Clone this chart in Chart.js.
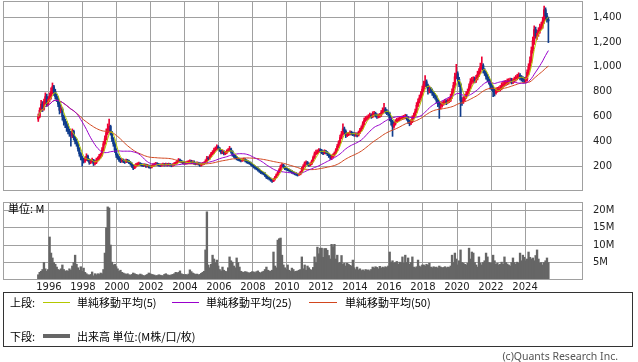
<!DOCTYPE html>
<html>
<head>
<meta charset="utf-8">
<script src="https://cdn.jsdelivr.net/npm/chart.js@4.4.0/dist/chart.umd.min.js"></script>
<style>
  html, body { margin: 0; padding: 0; background: #fff; }
  body { width: 638px; height: 362px; position: relative; overflow: hidden; font-family: "Noto Sans CJK JP", sans-serif; }
  canvas { position: absolute; left: 0; }
  .t { position: absolute; font-size: 11px; line-height: 12px; color: #000; white-space: nowrap; }
  .ln { position: absolute; height: 1px; }
  #legendBox { position: absolute; left: 3px; top: 292px; width: 628px; height: 53px; border: 1px solid #333; }
  #copy { position: absolute; right: 20px; top: 349px; font: 10.5px "Noto Sans", sans-serif; color: #555; line-height: 14px; }
</style>
</head>
<body>
<canvas id="priceChart" width="638" height="195" style="top:0"></canvas>
<canvas id="volumeChart" width="638" height="100" style="top:195px"></canvas>
<div class="t" style="left:8px;top:202px">単位: M</div>

<div id="legendBox"></div>
<div class="t" style="left:10px;top:296px">上段:</div>
<div class="ln" style="left:43px;top:302px;width:27px;background:#b4c800"></div>
<div class="t" style="left:77px;top:296px">単純移動平均(5)</div>
<div class="ln" style="left:172px;top:302px;width:27px;background:#9900cc"></div>
<div class="t" style="left:206px;top:296px">単純移動平均(25)</div>
<div class="ln" style="left:309px;top:302px;width:28px;background:#d2461e"></div>
<div class="t" style="left:345px;top:296px">単純移動平均(50)</div>
<div class="t" style="left:10px;top:330px">下段:</div>
<div class="ln" style="left:43px;top:334px;width:27px;height:4px;background:#666"></div>
<div class="t" style="left:77px;top:330px">出来高 単位:(M株/口/枚)</div>
<div id="copy">(c)Quants Research Inc.</div>

<script>
// 月足: 1995年5月から2025年5月まで
const startYear = 1995;
const startMonth = 5;

const open = [
  580,600,650,700,660,720,760,700,
  740,760,800,840,800,760,740,700,650,660,600,560,
  540,520,480,460,450,480,430,400,380,340,300,270,
  250,240,260,280,250,230,240,250,220,230,250,260,
  280,290,330,380,420,470,500,520,470,420,380,330,
  290,270,250,240,250,240,235,245,240,230,220,200,
  185,200,210,215,220,215,210,205,210,200,205,195,
  190,200,210,215,220,215,210,205,210,215,210,215,
  210,215,210,205,210,220,225,235,250,240,235,230,
  225,225,230,235,240,230,235,225,220,225,220,210,
  215,220,225,240,265,260,280,300,310,330,340,355,
  345,330,310,320,300,310,320,330,340,320,290,280,
  270,260,255,250,245,250,255,245,235,230,225,215,
  205,195,185,180,170,160,150,145,140,125,110,105,
  100,90,80,95,110,130,150,170,200,210,195,180,
  175,170,165,160,150,145,140,135,130,135,150,180,
  200,225,230,215,210,220,240,270,300,310,320,330,
  325,315,305,320,310,300,285,275,280,290,305,330,
  360,390,430,460,500,480,450,455,460,470,465,460,
  455,455,450,470,490,510,540,570,585,590,600,610,
  600,620,625,610,600,605,610,630,650,660,640,630,
  625,590,560,520,540,560,570,575,580,585,590,595,
  600,590,560,545,560,590,610,640,690,720,750,780,
  820,860,880,850,810,820,810,790,770,760,730,705,
  690,690,700,710,720,715,725,730,760,800,850,920,
  945,900,860,730,720,740,760,780,800,840,880,890,
  895,890,910,940,960,1000,1010,970,950,920,900,880,
  850,830,800,790,810,815,820,830,850,860,865,870,
  880,885,890,880,890,900,910,920,930,915,905,900,
  890,900,955,1000,1050,1130,1210,1300,1250,1270,1290,1320,
  1330,1370,1460,1410,1380
];

const high = [
  620,670,730,720,740,790,780,760,
  790,830,870,850,820,780,760,720,690,670,610,580,
  560,540,500,480,500,490,440,420,390,350,310,280,
  265,275,300,290,260,255,265,255,245,265,275,295,
  305,350,400,445,500,540,580,530,480,430,390,340,
  300,280,265,262,258,250,258,255,248,238,228,210,
  212,222,228,232,228,222,218,220,216,215,210,205,
  210,220,225,230,228,222,218,220,225,222,225,222,
  225,222,218,220,230,235,248,262,258,248,242,238,
  236,240,245,252,248,245,242,232,235,232,228,225,
  230,235,252,280,275,292,312,325,345,355,372,365,
  350,335,332,325,320,332,342,360,345,325,298,288,
  278,268,265,258,260,265,262,252,245,240,232,222,
  212,202,195,188,178,166,158,152,148,132,120,112,
  106,96,100,118,138,158,180,210,220,215,200,188,
  182,178,172,166,158,152,148,142,142,158,190,212,
  235,242,238,225,228,250,282,315,330,332,342,340,
  335,325,332,328,318,305,292,290,300,315,342,375,
  405,450,480,540,515,492,470,472,485,482,475,470,
  470,468,482,505,525,558,588,600,605,615,628,622,
  638,642,635,622,620,625,648,670,705,672,655,645,
  635,600,570,555,575,585,590,595,600,605,610,618,
  615,600,570,575,605,628,660,712,742,772,800,845,
  885,930,895,860,845,835,822,800,785,770,740,720,
  712,718,728,738,735,742,748,780,822,875,950,1020,
  960,915,870,752,760,780,800,822,862,905,915,920,
  918,932,965,985,1030,1080,1025,985,965,940,920,895,
  865,845,820,830,835,840,850,872,882,888,892,902,
  905,910,908,905,918,930,940,952,945,930,922,915,
  918,975,1025,1080,1160,1240,1330,1320,1295,1315,1345,1360,
  1400,1490,1475,1430,1400
];

const low = [
  560,590,640,640,650,700,680,690,
  720,740,780,770,740,720,680,620,630,570,530,510,
  480,460,440,360,430,410,380,360,320,280,250,200,
  225,230,245,240,215,220,230,205,210,220,240,250,
  265,280,320,370,410,455,480,450,400,360,310,270,
  255,238,228,232,228,222,228,230,220,208,190,172,
  180,192,202,208,205,200,195,198,190,192,185,182,
  185,195,202,208,205,200,195,198,202,200,202,200,
  202,200,195,198,205,212,220,232,230,225,220,215,
  215,218,222,228,220,222,215,210,212,208,198,200,
  208,212,220,235,248,255,275,292,302,320,330,335,
  318,298,300,290,292,300,315,320,305,280,270,258,
  250,245,240,235,238,242,235,225,220,215,205,195,
  185,175,170,160,150,140,135,130,115,100,95,88,
  78,70,75,88,105,125,145,165,192,185,172,168,
  162,158,150,142,136,130,125,120,125,130,145,172,
  195,215,205,198,202,212,232,262,290,298,310,312,
  300,292,298,298,285,270,255,252,268,280,298,325,
  350,380,420,450,460,430,438,445,452,450,445,440,
  440,435,442,462,482,500,530,560,570,578,590,585,
  590,605,595,585,588,592,600,620,635,625,615,605,
  565,530,440,505,530,555,560,565,570,575,578,582,
  570,545,525,535,550,580,600,630,680,708,738,765,
  800,840,830,780,790,790,770,750,740,710,680,585,
  660,675,690,700,695,705,712,720,745,785,835,905,
  880,840,600,690,705,725,745,765,785,825,860,870,
  870,875,895,920,945,980,950,930,900,880,860,820,
  810,760,765,780,795,800,805,815,835,842,848,855,
  860,870,862,865,875,885,895,905,895,885,880,870,
  870,885,935,980,1030,1110,1180,1230,1220,1245,1270,1300,
  1310,1350,1380,1360,1195
];

const close = [
  600,650,700,660,720,760,700,740,
  760,800,840,800,760,740,700,650,660,600,560,540,
  520,480,460,450,480,430,400,380,340,300,270,250,
  240,260,280,250,230,240,250,220,230,250,260,280,
  290,330,380,420,470,500,520,470,420,380,330,290,
  270,250,240,250,240,235,245,240,230,220,200,185,
  200,210,215,220,215,210,205,210,200,205,195,190,
  200,210,215,220,215,210,205,210,215,210,215,210,
  215,210,205,210,220,225,235,250,240,235,230,225,
  225,230,235,240,230,235,225,220,225,220,210,215,
  220,225,240,265,260,280,300,310,330,340,355,345,
  330,310,320,300,310,320,330,340,320,290,280,270,
  260,255,250,245,250,255,245,235,230,225,215,205,
  195,185,180,170,160,150,145,140,125,110,105,100,
  90,80,95,110,130,150,170,200,210,195,180,175,
  170,165,160,150,145,140,135,130,135,150,180,200,
  225,230,215,210,220,240,270,300,310,320,330,325,
  315,305,320,310,300,285,275,280,290,305,330,360,
  390,430,460,500,480,450,455,460,470,465,460,455,
  455,450,470,490,510,540,570,585,590,600,610,600,
  620,625,610,600,605,610,630,650,660,640,630,625,
  590,560,520,540,560,570,575,580,585,590,595,600,
  590,560,545,560,590,610,640,690,720,750,780,820,
  860,880,850,810,820,810,790,770,760,730,705,690,
  690,700,710,720,715,725,730,760,800,850,920,945,
  900,860,730,720,740,760,780,800,840,880,890,895,
  890,910,940,960,1000,1010,970,950,920,900,880,850,
  830,800,790,810,815,820,830,850,860,865,870,880,
  885,890,880,890,900,910,920,930,915,905,900,890,
  900,955,1000,1050,1130,1210,1300,1250,1270,1290,1320,1330,
  1370,1460,1410,1380,1370
];

// 出来高 (百万)
const volume = [
  1.5,2.2,2.5,3.0,5.0,3.2,2.5,3.0,
  12.3,7.7,6.3,5.0,4.5,3.7,3.0,2.8,3.2,4.3,3.0,2.5,
  2.7,2.5,3.2,2.8,4.0,5.0,7.1,4.5,3.5,2.8,3.8,2.5,
  3.4,2.2,1.8,1.5,1.4,1.6,2.3,1.2,1.8,1.5,1.8,1.6,
  2.0,1.8,3.0,7.7,14.9,20.9,20.6,10.0,5.1,4.3,4.5,3.8,
  3.2,2.5,2.8,2.2,2.0,1.8,1.6,1.8,1.5,1.4,1.6,2.0,
  1.8,1.6,1.5,1.4,1.7,1.5,1.3,1.2,1.4,1.6,2.0,1.8,
  1.6,1.5,1.4,1.2,1.3,1.5,1.4,1.3,1.2,1.6,1.8,1.5,
  1.4,1.3,1.5,1.6,1.8,2.2,2.0,2.2,2.6,1.8,1.6,1.5,
  1.6,1.4,1.7,2.9,2.4,2.0,1.8,1.6,1.7,1.5,1.6,1.9,
  2.2,2.5,8.6,19.5,4.3,3.5,4.5,7.1,6.0,5.0,5.7,4.0,
  3.0,2.6,3.7,2.8,2.5,2.4,3.5,6.6,5.5,5.1,4.0,3.5,
  6.3,5.0,3.7,2.5,2.3,2.2,2.4,2.3,2.1,2.0,2.2,2.4,
  2.3,2.1,2.4,2.6,2.2,2.0,2.3,2.5,3.0,3.7,2.8,2.6,
  2.5,2.8,8.0,4.0,3.5,11.4,11.8,12.0,7.1,4.3,3.5,3.0,
  4.3,2.8,2.5,3.4,3.0,2.4,2.5,2.6,2.8,3.0,6.6,3.2,
  4.3,2.8,4.0,3.5,3.0,2.8,3.6,6.6,5.0,9.4,7.5,9.1,
  9.1,6.5,9.0,9.0,8.5,7.0,6.0,10.2,9.5,10.2,6.0,7.1,
  4.8,5.0,7.0,4.5,4.8,4.0,4.8,4.5,4.2,4.0,5.7,3.5,
  3.0,3.7,2.9,3.2,2.7,2.9,2.6,3.0,2.8,2.9,2.6,3.0,
  3.7,3.4,3.8,3.6,3.2,3.9,3.4,3.7,3.5,3.8,3.6,4.0,
  8.0,5.1,5.5,4.8,5.0,5.3,4.5,5.1,5.0,6.6,4.8,7.1,
  5.0,6.3,4.5,5.0,6.6,3.7,3.5,3.8,5.7,4.0,3.7,4.3,
  4.3,4.0,4.5,4.2,4.8,3.7,3.5,3.8,3.6,3.7,3.4,4.0,
  3.7,3.5,3.6,3.8,3.5,3.7,3.6,4.0,7.1,5.0,7.7,6.0,
  4.3,5.5,8.6,5.0,4.8,4.5,4.3,4.8,9.1,6.0,8.0,7.7,
  5.0,4.3,3.7,6.6,4.8,4.3,5.0,5.5,7.7,6.6,5.0,4.8,
  5.0,7.1,5.5,4.5,4.8,4.3,4.5,5.1,4.5,6.6,5.0,4.6,
  4.3,4.0,5.0,6.3,5.0,4.5,5.1,4.8,7.7,5.5,7.1,6.5,
  5.5,6.0,8.0,6.5,6.0,6.3,5.5,7.0,8.6,6.0,4.8,5.0,
  4.3,5.0,5.5,6.3,5.0
];

const yearTicks = [1996, 1998, 2000, 2002, 2004, 2006, 2008, 2010, 2012, 2014, 2016, 2018, 2020, 2022, 2024];
const priceTicks = [200, 400, 600, 800, 1000, 1200, 1400];
const volumeTicks = [5, 10, 15, 20];

const UP = '#ee0033';
const DOWN = '#103c8c';
const GRID = '#a0a0a0';

Chart.defaults.font.family = 'DejaVu Sans';
Chart.defaults.font.size = 10;
Chart.defaults.color = '#222';

// 各月の足の中心位置 (年)
const monthX = close.map((_, i) => startYear + (startMonth - 1 + i) / 12 + 1 / 24);

function movingAverage(values, n) {
  return values.map((_, i) => {
    const part = values.slice(Math.max(0, i - n + 1), i + 1);
    return part.reduce((a, b) => a + b, 0) / part.length;
  });
}

const candleColor = close.map((c, i) => (c >= open[i] ? UP : DOWN));

// 枠線
const framePlugin = {
  id: 'frame',
  afterDraw(chart) {
    const { ctx, chartArea: a } = chart;
    ctx.save();
    ctx.strokeStyle = GRID;
    ctx.lineWidth = 1;
    ctx.strokeRect(Math.round(a.left) + 0.5, Math.round(a.top) + 0.5,
      Math.round(a.right - a.left) - 1, Math.round(a.bottom - a.top) - 1);
    ctx.restore();
  }
};

function xScale(showLabels) {
  return {
    type: 'linear',
    min: 1993.3,
    max: 2027.41,
    offset: false,
    afterBuildTicks: s => { s.ticks = yearTicks.map(v => ({ value: v })); },
    afterFit: s => { s.height = showLabels ? 15 : 0; s.paddingLeft = 0; s.paddingRight = 0; },
    ticks: { display: showLabels, padding: 1, maxRotation: 0, autoSkip: false, callback: v => String(v) },
    grid: { color: GRID, drawTicks: false, offset: false },
    border: { display: false }
  };
}

function yScale(min, max, ticks, fmt) {
  return {
    position: 'right',
    min: min,
    max: max,
    afterBuildTicks: s => { s.ticks = ticks.map(v => ({ value: v })); },
    afterFit: s => { s.width = 55; s.paddingTop = 0; s.paddingBottom = 0; },
    ticks: { padding: 10, callback: fmt },
    grid: { color: GRID, drawTicks: false },
    border: { display: false }
  };
}

const commonOptions = {
  responsive: false,
  animation: false,
  events: [],
  plugins: { legend: { display: false }, tooltip: { enabled: false } },
  datasets: { bar: { grouped: false } }
};

new Chart(document.getElementById('priceChart'), {
  type: 'bar',
  data: {
    datasets: [
      {
        type: 'line', label: '単純移動平均(5)', order: 0,
        data: movingAverage(close, 5).map((y, i) => ({ x: monthX[i], y })),
        borderColor: '#b4c800', borderWidth: 1, pointRadius: 0, tension: 0
      },
      {
        type: 'line', label: '単純移動平均(25)', order: 1,
        data: movingAverage(close, 25).map((y, i) => ({ x: monthX[i], y })),
        borderColor: '#9900cc', borderWidth: 1, pointRadius: 0, tension: 0
      },
      {
        type: 'line', label: '単純移動平均(50)', order: 2,
        data: movingAverage(close, 50).map((y, i) => ({ x: monthX[i], y })),
        borderColor: '#d2461e', borderWidth: 1, pointRadius: 0, tension: 0
      },
      {
        label: 'body', order: 3,
        data: monthX.map((x, i) => ({ x, y: [open[i], close[i]] })),
        backgroundColor: candleColor,
        barThickness: 1.6
      },
      {
        label: 'wick', order: 4,
        data: monthX.map((x, i) => ({ x, y: [low[i], high[i]] })),
        backgroundColor: candleColor,
        barThickness: 1
      }
    ]
  },
  options: {
    ...commonOptions,
    layout: { padding: { left: 3, top: 1, right: 0, bottom: 4 } },
    scales: {
      x: xScale(false),
      y: yScale(0, 1530, priceTicks, v => v.toLocaleString('en-US'))
    }
  },
  plugins: [framePlugin]
});

new Chart(document.getElementById('volumeChart'), {
  type: 'bar',
  data: {
    datasets: [{
      label: '出来高',
      data: monthX.map((x, i) => ({ x, y: volume[i] })),
      backgroundColor: '#666666',
      barThickness: 1.7
    }]
  },
  options: {
    ...commonOptions,
    layout: { padding: { left: 3, top: 7, right: 0, bottom: 0 } },
    scales: {
      x: xScale(true),
      y: yScale(0, 22.3, volumeTicks, v => v + 'M')
    }
  },
  plugins: [framePlugin]
});
</script>
</body>
</html>
